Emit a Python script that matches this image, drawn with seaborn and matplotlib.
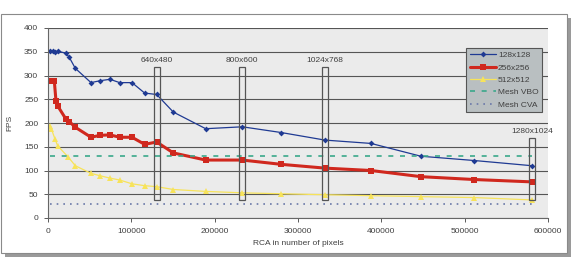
import pandas as pd
import matplotlib.pyplot as plt
import seaborn as sns
from matplotlib.patches import Rectangle

# data
x_128 = [2400, 5600, 8400, 11600, 21600, 25600, 32800, 51600, 62400, 74400, 86000, 100800,
         116000, 130400, 150400, 189200, 233200, 279600, 332400, 387600, 447600, 511600, 581200]
fps_128 = [351, 351, 349, 351, 347, 338, 315, 285, 289, 292, 285, 285,
           263, 260, 223, 188, 192, 180, 164, 157, 130, 121, 110]

x_256 = [2400, 7600, 9600, 11600, 21600, 25600, 32800, 51600, 62400, 74400, 86000, 100800,
         116000, 130400, 150400, 189200, 233200, 279600, 332400, 387600, 447600, 511600, 581200]
fps_256 = [288, 288, 246, 236, 208, 203, 191, 170, 174, 175, 170, 170,
           155, 160, 137, 122, 122, 113, 105, 100, 87, 81, 76]

x_512 = [2400, 4000, 8400, 11600, 24400, 32800, 51600, 62400, 74400, 86000, 100800, 116000,
         130400, 150400, 189200, 233200, 279600, 332400, 387600, 447600, 511600, 581200]
fps_512 = [194, 188, 166, 152, 128, 110, 94, 89, 84, 80, 72, 68,
           66, 60, 56, 53, 51, 49, 47, 45, 43, 38]

mesh_x = [2400, 581200]
mesh_vbo = [130, 130]
mesh_cva = [29, 29]

# screen resolutions marked with boxes
res_labels = ['640x480', '800x600', '1024x768', '1280x1024']
res_x = [130400, 233200, 332400, 581200]

sns.set_style('white')
plt.rcParams['font.family'] = ['Liberation Sans', 'DejaVu Sans']
FS = 6
TXT = '#404040'

fig = plt.figure(figsize=(5.75, 2.57), dpi=100)

# outer frame + shadow like the spreadsheet chart
fig.patches.append(Rectangle((5 / 575, 0), 566 / 575, 239 / 257, transform=fig.transFigure,
                             facecolor='#9a9a9a', edgecolor='none', zorder=-2))
fig.patches.append(Rectangle((1 / 575, 4 / 257), 566 / 575, 239 / 257, transform=fig.transFigure,
                             facecolor='white', edgecolor='#8a8a8a', linewidth=0.8, zorder=-1))

ax = fig.add_axes([48 / 575, 39 / 257, 500 / 575, 190 / 257])
ax.set_facecolor('#ebebeb')

sns.lineplot(x=x_128, y=fps_128, ax=ax, color='#1f3a93', linewidth=0.9, marker='D',
             markersize=3, markeredgewidth=0, label='128x128', sort=False)
sns.lineplot(x=x_256, y=fps_256, ax=ax, color='#d0281e', linewidth=2.2, marker='s',
             markersize=4.5, markeredgewidth=0, label='256x256', sort=False)
sns.lineplot(x=x_512, y=fps_512, ax=ax, color='#f7e35a', linewidth=0.9, marker='^',
             markersize=4, markeredgewidth=0, label='512x512', sort=False)
sns.lineplot(x=mesh_x, y=mesh_vbo, ax=ax, color='#3aa88a', linewidth=1.2,
             linestyle=(0, (3, 4)), label='Mesh VBO')
sns.lineplot(x=mesh_x, y=mesh_cva, ax=ax, color='#6a78a8', linewidth=1.2,
             linestyle=(0, (1, 3)), label='Mesh CVA')

for lab, xv in zip(res_labels, res_x):
    top = 168 if lab == '1280x1024' else 318
    ax.add_patch(Rectangle((xv - 3500, 37), 7000, top - 37, facecolor='none',
                           edgecolor='#555555', linewidth=0.9, zorder=5))
    ax.text(xv, top + 6, lab, ha='center', va='bottom', fontsize=FS, color=TXT)

ax.set_xlim(0, 600000)
ax.set_ylim(0, 400)
ax.set_xticks(range(0, 600001, 100000))
ax.set_yticks(range(0, 401, 50))
ax.ticklabel_format(style='plain', axis='x')
ax.yaxis.grid(True, color='#555555', linewidth=0.8)
ax.set_axisbelow(True)
ax.tick_params(labelsize=FS, colors=TXT, length=3, width=0.6, direction='out',
               left=True, bottom=True, pad=4)
for s in ['top', 'right']:
    ax.spines[s].set_visible(False)
for s in ['left', 'bottom']:
    ax.spines[s].set_color('#666666')
    ax.spines[s].set_linewidth(0.8)

ax.set_xlabel('RCA in number of pixels', fontsize=FS, color=TXT, labelpad=4)
ax.set_ylabel('FPS', fontsize=FS, color=TXT, labelpad=8)

leg = ax.legend(loc='upper right', bbox_to_anchor=(0.988, 0.895), fontsize=FS, frameon=True,
                fancybox=False, borderpad=0.4, labelspacing=0.55, handlelength=3.1,
                handletextpad=0.3, borderaxespad=0)
leg.get_frame().set_facecolor('#b9bfc1')
leg.get_frame().set_edgecolor('#555555')
leg.get_frame().set_linewidth(0.8)
leg.get_frame().set_alpha(1)
for t in leg.get_texts():
    t.set_color(TXT)

fig.savefig('out.png', dpi=100)
